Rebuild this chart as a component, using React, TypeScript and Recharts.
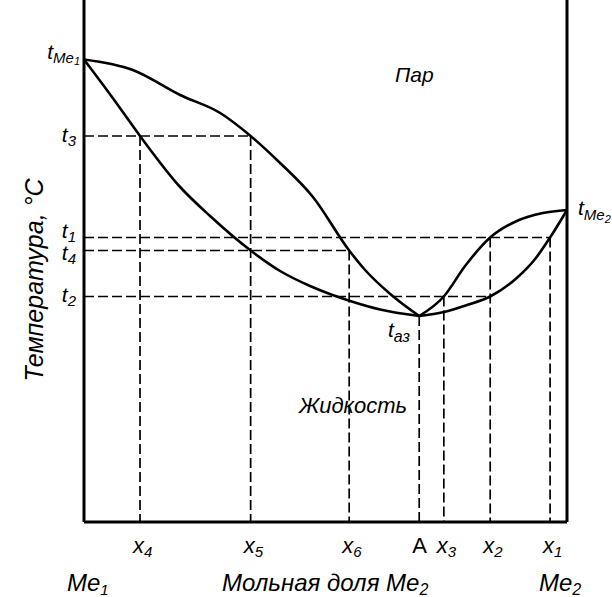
import React from 'react';
import { ComposedChart, Line, XAxis, YAxis, ReferenceLine } from 'recharts';

// x = mole fraction of Me2, t = temperature (relative units)
const T_ME1 = 92.5;
const T_ME2 = 62.4;
const T_AZ = 41.2;
const T3 = 77.2;
const T1 = 56.9;
const T4 = 54.3;
const T2 = 45.1;

const X4 = 0.116;
const X5 = 0.345;
const X6 = 0.549;
const XA = 0.694;
const X3 = 0.745;
const X2 = 0.841;
const X1 = 0.965;

// vapour (dew) curve, Me1 side
const dewLeft = [
  { x: 0, t: T_ME1 },
  { x: 0.101, t: 90.4 },
  { x: 0.199, t: 85.4 },
  { x: 0.282, t: 81.8 },
  { x: X5, t: T3 },
  { x: 0.406, t: 71.8 },
  { x: 0.474, t: 65.0 },
  { x: X6, t: T4 },
  { x: 0.582, t: 50.4 },
  { x: 0.634, t: 45.6 },
  { x: XA, t: T_AZ },
];

// liquid (boiling) curve, Me1 side
const liqLeft = [
  { x: 0, t: T_ME1 },
  { x: 0.058, t: 85.0 },
  { x: X4, t: T3 },
  { x: 0.199, t: 67.0 },
  { x: 0.261, t: 61.2 },
  { x: X5, t: T4 },
  { x: 0.406, t: 50.2 },
  { x: 0.468, t: 47.2 },
  { x: 0.509, t: 45.6 },
  { x: 0.551, t: 44.2 },
  { x: 0.613, t: 42.5 },
  { x: XA, t: T_AZ },
];

// vapour curve, Me2 side
const dewRight = [
  { x: XA, t: T_AZ },
  { x: X3, t: T2 },
  { x: 0.789, t: 51.2 },
  { x: X2, t: T1 },
  { x: 0.896, t: 60.2 },
  { x: 0.95, t: 61.8 },
  { x: 1, t: T_ME2 },
];

// liquid curve, Me2 side
const liqRight = [
  { x: XA, t: T_AZ },
  { x: X3, t: 42.0 },
  { x: 0.793, t: 43.4 },
  { x: X2, t: T2 },
  { x: 0.896, t: 48.8 },
  { x: 0.934, t: 52.6 },
  { x: X1, t: T1 },
  { x: 1, t: T_ME2 },
];

const xTicks = [X4, X5, X6, XA, X3, X2, X1];
const xTickLabels = [['x', '4'], ['x', '5'], ['x', '6'], ['A', ''], ['x', '3'], ['x', '2'], ['x', '1']];
const yTicks = [T_ME1, T3, T1, T4, T2];
const yTickLabels = [['Me', '1'], ['3', ''], ['1', ''], ['4', ''], ['2', '']];
// vertical nudges of the t-labels against their level
const yTickDy = [-1, 6, 0, 9, 5];

const hLevels = [
  [T3, X5],
  [T1, X1],
  [T4, X6],
  [T2, X2],
];
const vDrops = [
  [X4, T3],
  [X5, T3],
  [X6, T4],
  [XA, T_AZ],
  [X3, T2],
  [X2, T1],
  [X1, T1],
];

const FONT = '"Liberation Sans", Arial, sans-serif';

const XTick = (props: any) => {
  const { x, y, payload } = props;
  const i = xTicks.indexOf(payload.value);
  const [main, sub] = xTickLabels[i] || ['', ''];
  const isA = main === 'A';
  return (
    <text x={x - 7} y={y + 23} fontFamily={FONT} fontSize={22} fontStyle={isA ? 'normal' : 'italic'} fill="#000">
      <tspan>{main}</tspan>
      {sub && <tspan fontSize={15} dy={4}>{sub}</tspan>}
    </text>
  );
};

const YTick = (props: any) => {
  const { x, y, payload } = props;
  const i = yTicks.indexOf(payload.value);
  const [sub, subsub] = yTickLabels[i] || ['', ''];
  const isMe = sub === 'Me';
  return (
    <text x={isMe ? x + 4 : x} y={y + (yTickDy[i] || 0)} textAnchor="end" fontFamily={FONT} fontSize={21} fontStyle="italic" fill="#000">
      <tspan>t</tspan>
      <tspan fontSize={15} dy={4}>{sub}</tspan>
      {subsub && <tspan fontSize={11} dy={2}>{subsub}</tspan>}
    </text>
  );
};

export default function App() {
  return (
    <div style={{ position: 'absolute', left: 0, top: 0, width: 612, height: 597, background: '#fff' }}>
      <ComposedChart width={612} height={597} margin={{ top: 0, right: 45, bottom: 35, left: 0 }}>
        <XAxis
          type="number"
          dataKey="x"
          domain={[0, 1]}
          ticks={xTicks}
          interval={0}
          tick={<XTick />}
          axisLine={false}
          tickLine={false}
          height={40}
        />
        <YAxis
          type="number"
          dataKey="t"
          domain={[0, 104.4]}
          ticks={yTicks}
          interval={0}
          tick={<YTick />}
          axisLine={false}
          tickLine={false}
          width={84}
        />
        {hLevels.map(([t, xe], i) => (
          <ReferenceLine
            key={'h' + i}
            segment={[{ x: 0, y: t }, { x: xe, y: t }]}
            stroke="#000"
            strokeWidth={1.7}
            strokeDasharray="10 4"
          />
        ))}
        {vDrops.map(([xv, t], i) => (
          <ReferenceLine
            key={'v' + i}
            segment={[{ x: xv, y: t }, { x: xv, y: 0 }]}
            stroke="#000"
            strokeWidth={1.7}
            strokeDasharray="10 4"
          />
        ))}
        <Line data={dewLeft} dataKey="t" type="monotone" stroke="#000" strokeWidth={2.6} dot={false} isAnimationActive={false} />
        <Line data={liqLeft} dataKey="t" type="monotone" stroke="#000" strokeWidth={2.6} dot={false} isAnimationActive={false} />
        <Line data={dewRight} dataKey="t" type="monotone" stroke="#000" strokeWidth={2.6} dot={false} isAnimationActive={false} />
        <Line data={liqRight} dataKey="t" type="monotone" stroke="#000" strokeWidth={2.6} dot={false} isAnimationActive={false} />
        <ReferenceLine x={0} stroke="#000" strokeWidth={3} />
        <ReferenceLine x={1} stroke="#000" strokeWidth={3} />
        <ReferenceLine y={0} stroke="#000" strokeWidth={3} />
      </ComposedChart>
      <svg width={612} height={597} style={{ position: 'absolute', left: 0, top: 0, pointerEvents: 'none' }}>
        <g fontFamily={FONT} fontStyle="italic" fill="#000">
          <text x={395} y={82} fontSize={21}>Пар</text>
          <text x={299} y={413} fontSize={22}>Жидкость</text>
          <text x={578} y={215} fontSize={21}>
            <tspan>t</tspan>
            <tspan fontSize={15} dy={5}>Me</tspan>
            <tspan fontSize={11} dy={3}>2</tspan>
          </text>
          <text x={388} y={337} fontSize={21}>
            <tspan>t</tspan>
            <tspan fontSize={16} dy={5}>аз</tspan>
          </text>
          <text x={67} y={591} fontSize={24}>
            <tspan>Me</tspan>
            <tspan fontSize={15} dy={4}>1</tspan>
          </text>
          <text x={222} y={591} fontSize={24}>
            <tspan>Мольная доля Me</tspan>
            <tspan fontSize={16} dy={4}>2</tspan>
          </text>
          <text x={539} y={591} fontSize={24}>
            <tspan>Me</tspan>
            <tspan fontSize={16} dy={4}>2</tspan>
          </text>
          <text x={43} y={280} fontSize={25} textAnchor="middle" transform="rotate(-90, 43, 280)">
            Температура, °C
          </text>
        </g>
      </svg>
    </div>
  );
}
